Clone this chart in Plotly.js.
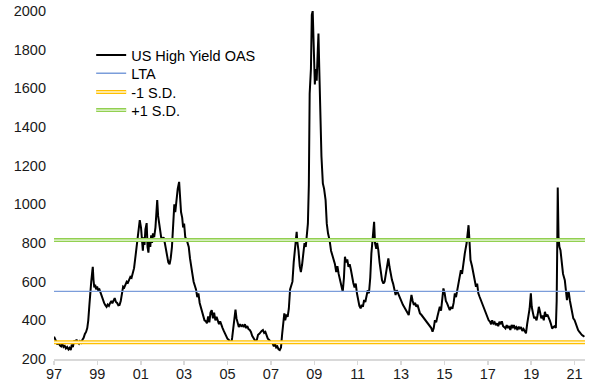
<!DOCTYPE html>
<html>
<head>
<meta charset="utf-8">
<script src="https://cdn.plot.ly/plotly-3.0.1.min.js"></script>
<style>
  html, body { margin: 0; padding: 0; background: #ffffff; }
  #chart { width: 592px; height: 385px; }
</style>
</head>
<body>
<div id="chart"></div>
<script>
// ---- Data ----
const dates = [
  '1997-01-02','1997-01-20','1997-02-10','1997-03-01','1997-03-20','1997-04-10','1997-05-01','1997-05-20',
  '1997-06-10','1997-07-01','1997-07-20','1997-08-10','1997-09-01','1997-09-20','1997-10-10','1997-10-28',
  '1997-11-15','1997-12-05','1997-12-25','1998-01-15','1998-02-05','1998-02-25','1998-03-15','1998-04-05',
  '1998-04-25','1998-05-15','1998-06-05','1998-06-25','1998-07-15','1998-08-01','1998-08-20','1998-09-05',
  '1998-09-20','1998-10-08','1998-10-16','1998-10-28','1998-11-10','1998-11-25','1998-12-10','1998-12-28',
  '1999-01-15','1999-02-05','1999-02-25','1999-03-15','1999-04-05','1999-04-25','1999-05-15','1999-06-05',
  '1999-06-25','1999-07-15','1999-08-05','1999-08-25','1999-09-10','1999-09-30','1999-10-20','1999-11-10',
  '1999-11-30','1999-12-20','2000-01-10','2000-01-30','2000-02-20','2000-03-10','2000-03-30','2000-04-20',
  '2000-05-10','2000-05-30','2000-06-20','2000-07-10','2000-07-30','2000-08-20','2000-09-10','2000-09-30',
  '2000-10-20','2000-11-10','2000-11-30','2000-12-15','2001-01-05','2001-01-20','2001-02-05','2001-02-20',
  '2001-03-05','2001-03-20','2001-04-10','2001-04-25','2001-05-10','2001-05-25','2001-06-10','2001-06-25',
  '2001-07-10','2001-07-25','2001-08-15','2001-09-05','2001-09-25','2001-10-05','2001-10-20','2001-11-10',
  '2001-11-25','2001-12-10','2002-01-01','2002-01-20','2002-02-10','2002-03-01','2002-03-20','2002-04-10',
  '2002-05-01','2002-05-20','2002-06-10','2002-06-30','2002-07-20','2002-08-05','2002-08-25','2002-09-15',
  '2002-10-09','2002-10-25','2002-11-10','2002-11-30','2002-12-15','2003-01-01','2003-01-20','2003-02-10',
  '2003-03-01','2003-03-20','2003-04-10','2003-05-01','2003-05-20','2003-06-10','2003-06-30','2003-07-20',
  '2003-08-10','2003-08-30','2003-09-20','2003-10-10','2003-10-30','2003-11-20','2003-12-10','2004-01-01',
  '2004-01-20','2004-02-10','2004-03-01','2004-03-20','2004-04-10','2004-04-30','2004-05-20','2004-06-10',
  '2004-06-30','2004-07-20','2004-08-10','2004-08-30','2004-09-20','2004-10-10','2004-10-30','2004-11-20',
  '2004-12-10','2004-12-30','2005-01-20','2005-02-10','2005-03-05','2005-03-20','2005-04-10','2005-04-25',
  '2005-05-15','2005-06-01','2005-06-20','2005-07-10','2005-07-30','2005-08-20','2005-09-10','2005-09-30',
  '2005-10-20','2005-11-10','2005-11-30','2005-12-20','2006-01-10','2006-01-30','2006-02-20','2006-03-10',
  '2006-03-30','2006-04-20','2006-05-10','2006-05-30','2006-06-20','2006-07-10','2006-07-30','2006-08-20',
  '2006-09-10','2006-09-30','2006-10-20','2006-11-10','2006-11-30','2006-12-20','2007-01-10','2007-01-30',
  '2007-02-20','2007-03-10','2007-03-30','2007-04-20','2007-05-10','2007-05-30','2007-06-20','2007-07-10',
  '2007-07-30','2007-08-15','2007-08-30','2007-09-20','2007-10-10','2007-10-30','2007-11-20','2007-12-10',
  '2007-12-30','2008-01-20','2008-02-10','2008-03-10','2008-03-20','2008-04-10','2008-05-01','2008-05-20',
  '2008-06-10','2008-06-30','2008-07-20','2008-08-10','2008-08-30','2008-09-15','2008-10-01','2008-10-15',
  '2008-11-05','2008-11-20','2008-12-05','2008-12-15','2008-12-25','2009-01-10','2009-01-25','2009-02-10',
  '2009-03-01','2009-03-12','2009-03-25','2009-04-10','2009-05-01','2009-05-25','2009-06-15','2009-07-10',
  '2009-07-30','2009-08-20','2009-09-15','2009-10-10','2009-11-01','2009-11-20','2009-12-15','2010-01-05',
  '2010-01-25','2010-02-15','2010-03-10','2010-04-01','2010-04-25','2010-05-15','2010-06-01','2010-06-20',
  '2010-07-10','2010-07-30','2010-08-20','2010-09-10','2010-09-30','2010-10-20','2010-11-10','2010-11-30',
  '2010-12-20','2011-01-10','2011-01-30','2011-02-20','2011-03-10','2011-03-30','2011-04-20','2011-05-10',
  '2011-05-30','2011-06-20','2011-07-10','2011-08-01','2011-08-20','2011-09-15','2011-10-05','2011-10-20',
  '2011-11-10','2011-11-25','2011-12-15','2012-01-05','2012-01-25','2012-02-15','2012-03-10','2012-03-30',
  '2012-04-20','2012-05-10','2012-06-01','2012-06-20','2012-07-10','2012-08-01','2012-08-20','2012-09-10',
  '2012-10-01','2012-10-20','2012-11-10','2012-12-01','2012-12-20','2013-01-10','2013-02-01','2013-02-20',
  '2013-03-10','2013-04-01','2013-04-20','2013-05-10','2013-06-01','2013-06-25','2013-07-15','2013-08-05',
  '2013-08-25','2013-09-15','2013-10-05','2013-10-25','2013-11-15','2013-12-05','2013-12-30','2014-01-20',
  '2014-02-10','2014-03-05','2014-03-25','2014-04-15','2014-05-05','2014-05-25','2014-06-15','2014-07-05',
  '2014-07-25','2014-08-15','2014-09-05','2014-09-25','2014-10-15','2014-11-05','2014-11-25','2014-12-15',
  '2015-01-05','2015-01-25','2015-02-15','2015-03-10','2015-04-01','2015-04-25','2015-05-15','2015-06-05',
  '2015-06-25','2015-07-15','2015-08-05','2015-08-25','2015-09-15','2015-10-05','2015-10-25','2015-11-15',
  '2015-12-10','2016-01-10','2016-02-11','2016-02-25','2016-03-15','2016-04-10','2016-05-01','2016-05-25',
  '2016-06-15','2016-07-05','2016-07-25','2016-08-15','2016-09-05','2016-09-25','2016-10-15','2016-11-10',
  '2016-12-01','2016-12-25','2017-01-15','2017-02-05','2017-02-25','2017-03-15','2017-04-05','2017-04-25',
  '2017-05-15','2017-06-05','2017-06-25','2017-07-15','2017-08-05','2017-08-25','2017-09-15','2017-10-05',
  '2017-10-25','2017-11-15','2017-12-05','2017-12-25','2018-01-15','2018-02-05','2018-02-25','2018-03-15',
  '2018-04-05','2018-04-25','2018-05-15','2018-06-05','2018-06-25','2018-07-15','2018-08-05','2018-08-25',
  '2018-09-15','2018-10-05','2018-10-25','2018-11-15','2018-12-05','2018-12-26','2019-01-10','2019-02-01',
  '2019-02-20','2019-03-10','2019-04-01','2019-04-20','2019-05-10','2019-06-01','2019-06-20','2019-07-10',
  '2019-08-01','2019-08-20','2019-09-10','2019-10-01','2019-10-20','2019-11-10','2019-12-01','2019-12-20',
  '2020-01-10','2020-02-01','2020-02-20','2020-03-05','2020-03-15','2020-03-23','2020-04-05','2020-04-20',
  '2020-05-08','2020-06-01','2020-06-20','2020-07-20','2020-08-10','2020-08-25','2020-09-10','2020-09-25',
  '2020-10-15','2020-11-01','2020-11-20','2020-12-10','2021-01-01','2021-01-20','2021-02-10','2021-03-01',
  '2021-03-20','2021-04-10','2021-05-01','2021-05-25','2021-06-15'
];
const oas = [
  315,300,290,275,290,270,265,280,
  262,268,255,262,250,258,246,275,
  262,295,285,300,288,280,292,285,
  300,310,330,340,360,400,480,560,
  600,655,677,610,570,585,560,575,
  555,560,540,530,505,490,478,470,
  482,475,490,500,488,505,515,495,
  490,478,480,500,540,575,570,590,
  600,595,610,625,620,640,670,720,
  770,820,870,918,880,800,760,830,
  790,870,903,780,750,820,780,840,
  800,850,830,880,960,1022,940,900,
  860,830,815,830,800,760,720,700,
  690,720,780,900,1000,960,1040,1080,
  1116,1040,960,930,880,900,830,820,
  800,780,720,660,640,600,580,560,
  520,540,490,470,440,420,400,395,
  385,420,390,440,453,410,440,400,
  418,400,380,395,370,360,345,330,
  320,305,300,290,280,310,360,420,
  455,410,380,365,380,370,375,365,
  380,360,370,355,350,340,320,310,
  300,290,300,325,330,340,345,350,
  335,340,320,305,300,290,285,280,
  265,280,260,265,250,246,260,330,
  420,436,400,430,418,460,560,580,
  600,700,780,858,810,760,680,650,
  690,740,800,780,832,900,1100,1573,
  1700,1980,2000,1880,1693,1620,1700,1640,
  1800,1883,1710,1450,1250,1108,1080,1022,
  900,850,815,760,740,712,690,650,
  680,640,608,570,548,620,729,700,
  715,677,690,660,620,593,570,590,
  540,500,475,462,480,470,505,495,
  530,556,540,620,746,820,910,800,
  770,800,763,700,640,608,590,600,
  640,680,720,677,640,608,590,560,
  531,556,540,520,505,488,480,470,
  460,445,436,427,480,531,500,480,
  490,470,480,450,436,430,420,410,
  400,390,384,376,370,360,341,360,
  401,390,420,453,470,450,520,565,
  540,500,488,470,453,470,460,490,
  540,520,560,591,620,660,640,700,
  746,800,892,820,712,680,643,620,
  574,590,540,522,505,490,470,453,
  430,410,400,393,380,400,384,390,
  375,384,370,393,380,395,370,365,
  358,375,360,370,350,376,360,375,
  358,365,350,367,358,365,345,355,
  340,333,380,418,460,540,470,436,
  410,418,400,430,470,440,410,425,
  400,444,420,430,418,400,380,358,
  365,370,360,500,800,1087,832,780,
  763,677,640,608,520,505,540,545,
  500,470,440,410,401,380,358,350,
  341,330,325,320,315
];
const ltaValue = 550;
const minusSD = 287;
const plusSD = 815;
const xStart = '1997-01-01';
const xEnd = '2021-06-25';
const tickDates = ['1997-01-01','1999-01-01','2001-01-01','2003-01-01','2005-01-01','2007-01-01',
                   '2009-01-01','2011-01-01','2013-01-01','2015-01-01','2017-01-01','2019-01-01','2021-01-01'];
const tickLabels = ['97','99','01','03','05','07','09','11','13','15','17','19','21'];
const yTicks = [200,400,600,800,1000,1200,1400,1600,1800,2000];
const seriesNames = ['US High Yield OAS','LTA','-1 S.D.','+1 S.D.'];

// ---- Chart ----
const FONT = 'Arial, "Liberation Sans", sans-serif';
const span = [xStart, xEnd];

const traces = [
  { x: dates, y: oas, type: 'scatter', mode: 'lines', name: seriesNames[0], legend: 'legend',
    line: { color: '#000000', width: 2 }, hoverinfo: 'skip' },
  { x: span, y: [ltaValue, ltaValue], type: 'scatter', mode: 'lines', name: seriesNames[1], legend: 'legend2',
    line: { color: '#7B9DDA', width: 1.4 }, hoverinfo: 'skip' },
  { x: span, y: [minusSD, minusSD], type: 'scatter', mode: 'lines', name: seriesNames[2], legend: 'legend3',
    line: { color: '#FFC000', width: 4 }, hoverinfo: 'skip' },
  { x: span, y: [plusSD, plusSD], type: 'scatter', mode: 'lines', name: seriesNames[3], legend: 'legend4',
    line: { color: '#92D050', width: 4 }, hoverinfo: 'skip' },
  // light inner strokes giving the double-line look
  { x: span, y: [minusSD, minusSD], type: 'scatter', mode: 'lines', name: ' ', legend: 'legend5',
    line: { color: '#FFF6D6', width: 1.4 }, hoverinfo: 'skip' },
  { x: span, y: [plusSD, plusSD], type: 'scatter', mode: 'lines', name: ' ', legend: 'legend6',
    line: { color: '#EEF8E4', width: 1.4 }, hoverinfo: 'skip' }
];

function legendAt(yPaper) {
  return {
    x: 0.07, y: yPaper, xanchor: 'left', yanchor: 'middle',
    bgcolor: 'rgba(0,0,0,0)', borderwidth: 0,
    font: { family: FONT, size: 14.5, color: '#000000' }
  };
}
// legend row centres (paper fraction of the plot height)
const rowY = [0.873, 0.821, 0.767, 0.715];

const layout = {
  width: 592, height: 385,
  margin: { l: 54, r: 7, t: 11, b: 26, pad: 0 },
  paper_bgcolor: '#ffffff', plot_bgcolor: '#ffffff',
  font: { family: FONT, size: 14.5, color: '#1a1a1a' },
  showlegend: true,
  legend: legendAt(rowY[0]),
  legend2: legendAt(rowY[1]),
  legend3: legendAt(rowY[2]),
  legend4: legendAt(rowY[3]),
  legend5: legendAt(rowY[2]),
  legend6: legendAt(rowY[3]),
  xaxis: {
    type: 'date', range: [xStart, xEnd],
    tickmode: 'array', tickvals: tickDates, ticktext: tickLabels,
    showgrid: false, zeroline: false,
    showline: true, linecolor: '#D9D9D9', linewidth: 1.5,
    ticks: 'outside', ticklen: 4, tickcolor: '#D9D9D9', tickwidth: 1.5,
    ticklabelstandoff: -3,
    tickfont: { family: FONT, size: 14.5, color: '#1a1a1a' }
  },
  yaxis: {
    range: [200, 2000],
    tickmode: 'array', tickvals: yTicks,
    showgrid: false, zeroline: false, showline: false,
    ticks: '', ticklabelstandoff: 7,
    tickfont: { family: FONT, size: 14.5, color: '#1a1a1a' }
  }
};

Plotly.newPlot('chart', traces, layout, { staticPlot: true, displayModeBar: false });
</script>
</body>
</html>
